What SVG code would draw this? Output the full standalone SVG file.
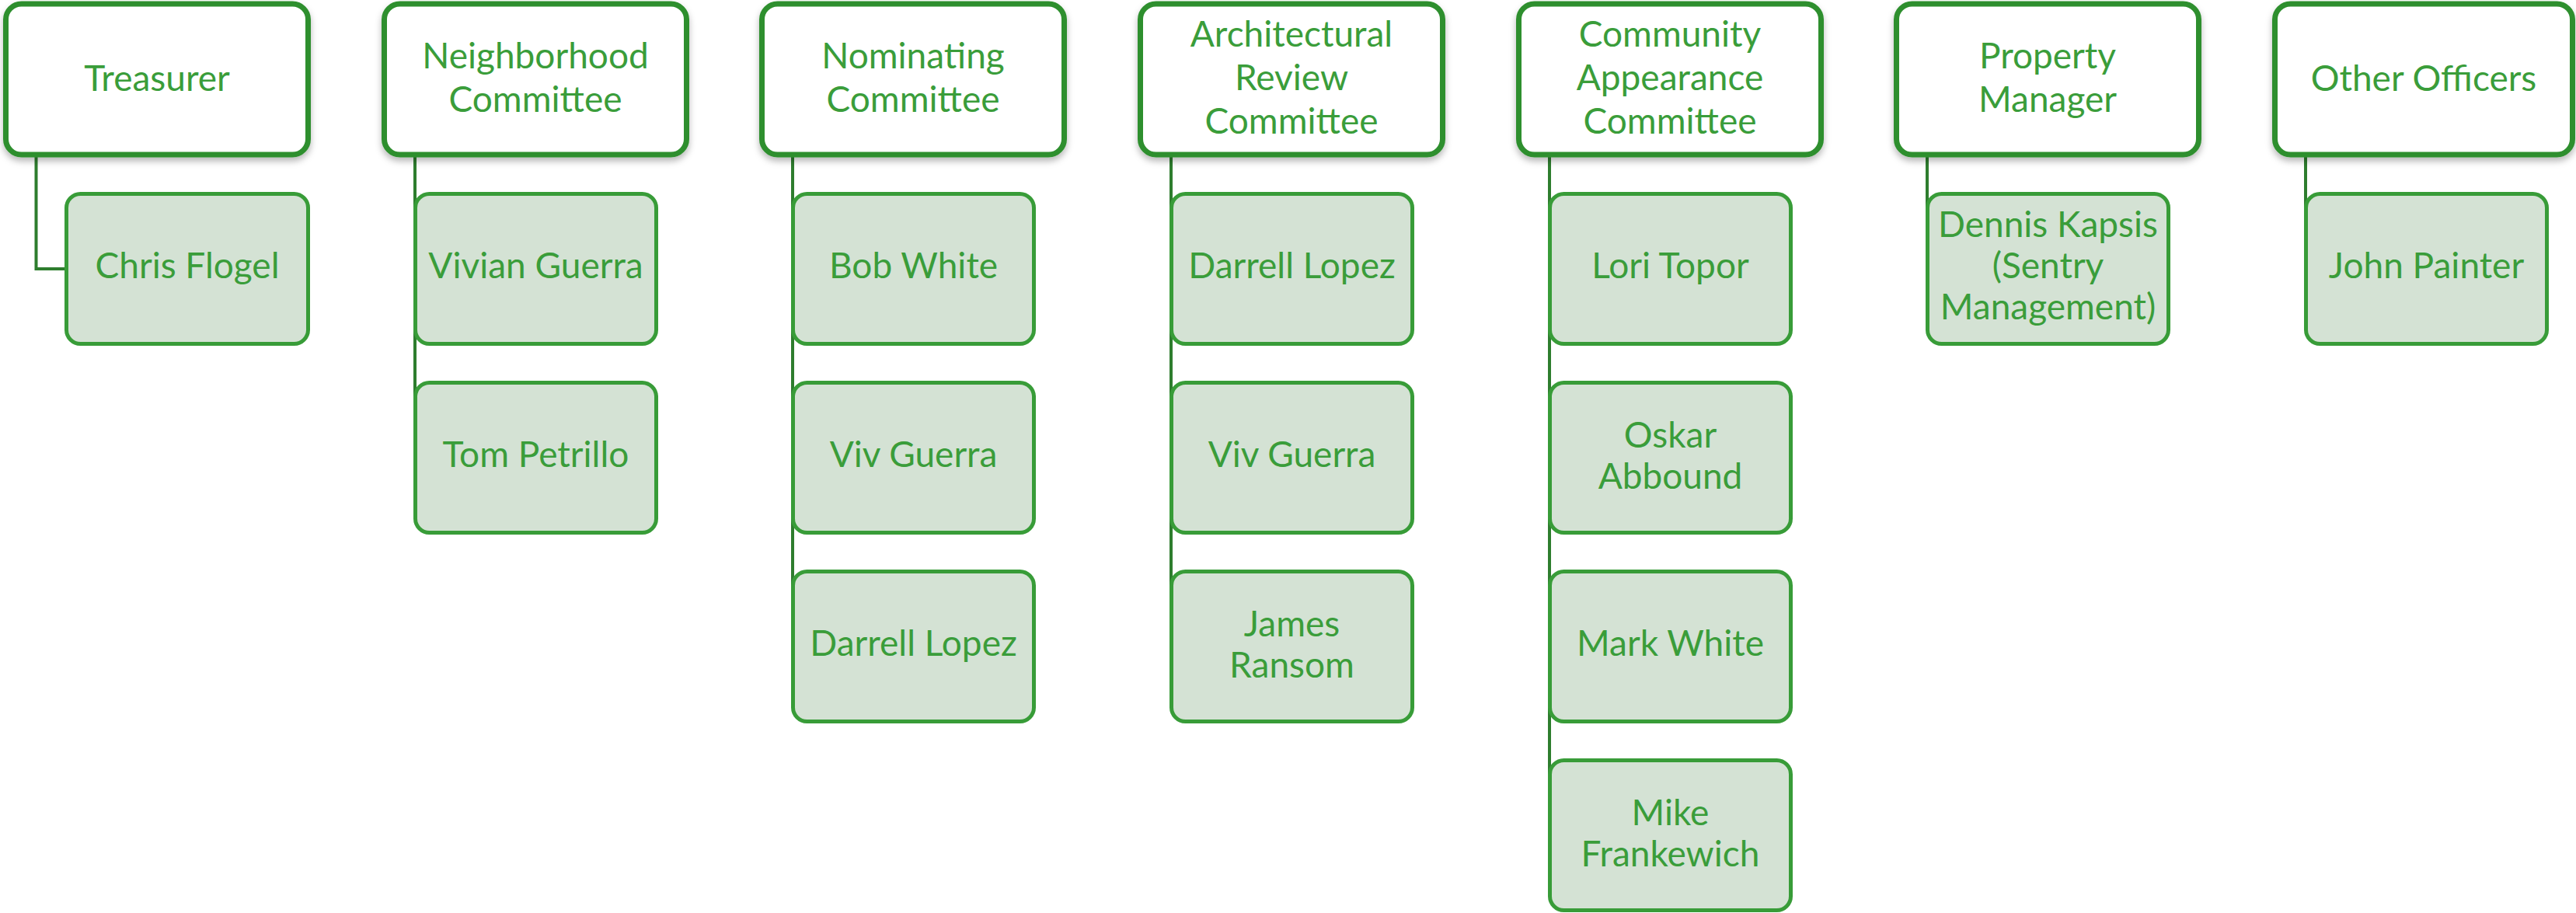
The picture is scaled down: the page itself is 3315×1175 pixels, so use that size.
<svg xmlns="http://www.w3.org/2000/svg" width="3315" height="1175" viewBox="0 0 3315 1175">
<defs>
<filter id="sh" x="-10%" y="-10%" width="120%" height="130%">
<feDropShadow dx="0" dy="5" stdDeviation="4" flood-color="#000" flood-opacity="0.28"/>
</filter>
<style>
.top{fill:#ffffff;stroke:#2f8f2f;stroke-width:7;filter:url(#sh)}
.ch{fill:#d4e2d4;stroke:#389c38;stroke-width:5}
.t{font-family:Lato,"Liberation Sans",Arial,sans-serif;font-size:46px;fill:#3a9d3a;text-anchor:middle}
.c{fill:none;stroke:#2e7d2e;stroke-width:4}
</style>
</defs>
<rect width="3315" height="1175" fill="#ffffff"/>
<g id="connectors">
<path class="c" d="M46.5,199 V346 H86"/>
<path class="c" d="M534,199 V589"/>
<path class="c" d="M1020,199 V832"/>
<path class="c" d="M1507,199 V832"/>
<path class="c" d="M1994,199 V1075"/>
<path class="c" d="M2480,199 V346"/>
<path class="c" d="M2967,199 V346"/>
</g>
<g id="treasurer"><rect class="top" x="7.5" y="5" width="389" height="194" rx="20"/><text class="t" x="202" y="117">Treasurer</text></g>
<g id="chris-flogel"><rect class="ch" x="85.5" y="249.5" width="311" height="193" rx="18"/><text class="t" x="241" y="358">Chris Flogel</text></g>

<g id="neighborhood-committee"><rect class="top" x="494.5" y="5" width="389" height="194" rx="20"/><text class="t" x="689" y="88">Neighborhood</text><text class="t" x="689" y="144">Committee</text></g>
<g id="vivian-guerra"><rect class="ch" x="534.5" y="249.5" width="310" height="193" rx="18"/><text class="t" x="689.5" y="358">Vivian Guerra</text></g>
<g id="tom-petrillo"><rect class="ch" x="534.5" y="492.5" width="310" height="193" rx="18"/><text class="t" x="689.5" y="601">Tom Petrillo</text></g>

<g id="nominating-committee"><rect class="top" x="980.5" y="5" width="389" height="194" rx="20"/><text class="t" x="1175" y="88">Nominating</text><text class="t" x="1175" y="144">Committee</text></g>
<g id="bob-white"><rect class="ch" x="1020.5" y="249.5" width="310" height="193" rx="18"/><text class="t" x="1175.5" y="358">Bob White</text></g>
<g id="viv-guerra-1"><rect class="ch" x="1020.5" y="492.5" width="310" height="193" rx="18"/><text class="t" x="1175.5" y="601">Viv Guerra</text></g>
<g id="darrell-lopez-1"><rect class="ch" x="1020.5" y="735.5" width="310" height="193" rx="18"/><text class="t" x="1175.5" y="844">Darrell Lopez</text></g>

<g id="architectural-review-committee"><rect class="top" x="1467.5" y="5" width="389" height="194" rx="20"/><text class="t" x="1662" y="60">Architectural</text><text class="t" x="1662" y="116">Review</text><text class="t" x="1662" y="172">Committee</text></g>
<g id="darrell-lopez-2"><rect class="ch" x="1507.5" y="249.5" width="310" height="193" rx="18"/><text class="t" x="1662.5" y="358">Darrell Lopez</text></g>
<g id="viv-guerra-2"><rect class="ch" x="1507.5" y="492.5" width="310" height="193" rx="18"/><text class="t" x="1662.5" y="601">Viv Guerra</text></g>
<g id="james-ransom"><rect class="ch" x="1507.5" y="735.5" width="310" height="193" rx="18"/><text class="t" x="1662.5" y="819">James</text><text class="t" x="1662.5" y="872">Ransom</text></g>

<g id="community-appearance-committee"><rect class="top" x="1954.5" y="5" width="389" height="194" rx="20"/><text class="t" x="2149" y="60">Community</text><text class="t" x="2149" y="116">Appearance</text><text class="t" x="2149" y="172">Committee</text></g>
<g id="lori-topor"><rect class="ch" x="1994.5" y="249.5" width="310" height="193" rx="18"/><text class="t" x="2149.5" y="358">Lori Topor</text></g>
<g id="oskar-abbound"><rect class="ch" x="1994.5" y="492.5" width="310" height="193" rx="18"/><text class="t" x="2149.5" y="576">Oskar</text><text class="t" x="2149.5" y="629">Abbound</text></g>
<g id="mark-white"><rect class="ch" x="1994.5" y="735.5" width="310" height="193" rx="18"/><text class="t" x="2149.5" y="844">Mark White</text></g>
<g id="mike-frankewich"><rect class="ch" x="1994.5" y="978.5" width="310" height="193" rx="18"/><text class="t" x="2149.5" y="1062">Mike</text><text class="t" x="2149.5" y="1115">Frankewich</text></g>

<g id="property-manager"><rect class="top" x="2440.5" y="5" width="389" height="194" rx="20"/><text class="t" x="2635" y="88">Property</text><text class="t" x="2635" y="144">Manager</text></g>
<g id="dennis-kapsis"><rect class="ch" x="2480.5" y="249.5" width="310" height="193" rx="18"/><text class="t" x="2635.5" y="305">Dennis Kapsis</text><text class="t" x="2635.5" y="358">(Sentry</text><text class="t" x="2635.5" y="411">Management)</text></g>

<g id="other-officers"><rect class="top" x="2927.5" y="5" width="383" height="194" rx="20"/><text class="t" x="3119" y="117">Other Officers</text></g>
<g id="john-painter"><rect class="ch" x="2967.5" y="249.5" width="310" height="193" rx="18"/><text class="t" x="3122.5" y="358">John Painter</text></g>
</svg>
